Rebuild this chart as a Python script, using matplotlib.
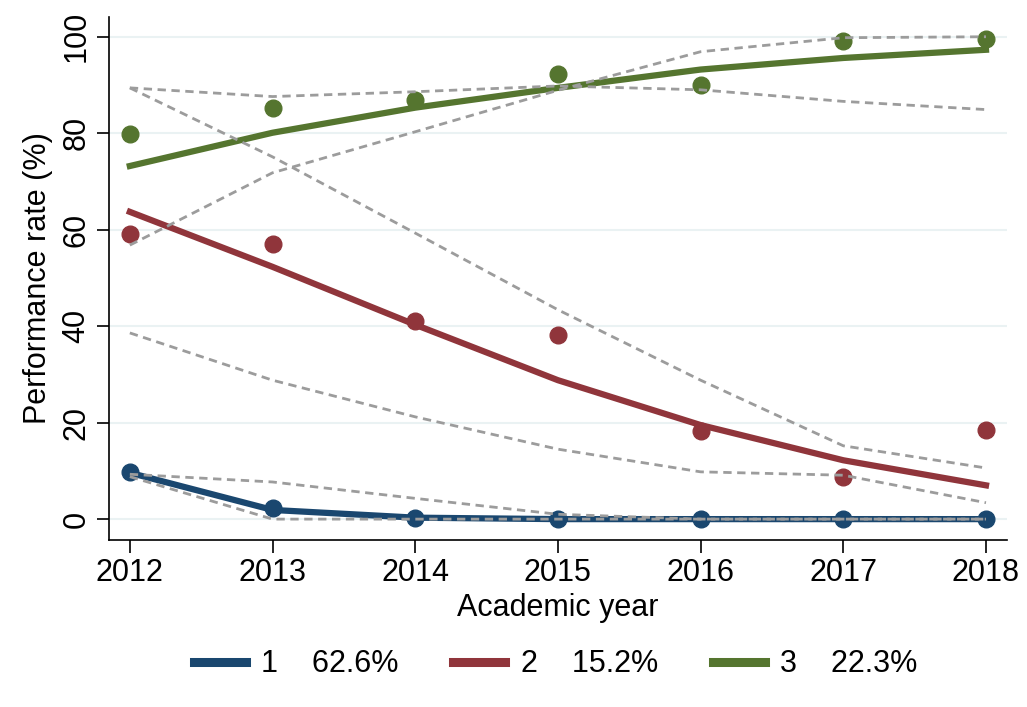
import numpy as np
import matplotlib.pyplot as plt

plt.rcParams['font.family'] = ['Liberation Sans', 'DejaVu Sans']

years = [2012, 2013, 2014, 2015, 2016, 2017, 2018]
labels = ["1    62.6%", "2    15.2%", "3    22.3%"]
colors = ["#1a476f", "#90353b", "#55752f"]

# observed rates per group
obs1 = [9.8, 2.3, 0.2, 0.0, 0.0, 0.0, 0.0]
obs2 = [59.1, 57.1, 41.1, 38.2, 18.3, 8.7, 18.5]
obs3 = [79.9, 85.3, 86.9, 92.3, 90.0, 99.2, 99.6]

# fitted trajectories
fit1 = [9.6, 1.9, 0.3, 0.0, 0.0, 0.0, 0.0]
fit2 = [63.7, 52.3, 40.3, 28.8, 19.5, 12.2, 7.0]
fit3 = [73.2, 80.1, 85.3, 89.4, 93.2, 95.6, 97.3]

# confidence bands (two dashed lines per group)
ci1_a = [9.3, 7.7, 4.3, 1.0, 0.0, 0.0, 0.0]
ci1_b = [8.8, 0.0, 0.0, 0.0, 0.0, 0.0, 0.0]
ci2_a = [89.4, 75.1, 59.3, 43.4, 28.8, 15.2, 10.6]
ci2_b = [38.6, 28.8, 21.2, 14.5, 9.8, 9.1, 3.4]
ci3_a = [89.4, 87.6, 88.6, 89.8, 89.0, 86.6, 84.9]
ci3_b = [56.8, 71.8, 80.3, 88.9, 96.9, 99.8, 100.0]

fig = plt.figure(figsize=(10.27, 7.07), dpi=100)
ax = fig.add_axes([0.106, 0.236, 0.8745, 0.740])

for y in range(0, 101, 20):
    ax.axhline(y, color="#eaf2f3", lw=1.5, zorder=0)

grey = "#9c9c9c"
for ci in [ci1_a, ci1_b, ci2_a, ci2_b, ci3_a, ci3_b]:
    ax.plot(years, ci, color=grey, lw=2.0, ls=(0, (3, 2)), zorder=4)

obs = [obs1, obs2, obs3]
fits = [fit1, fit2, fit3]
for o, f, c, lab in zip(obs, fits, colors, labels):
    ax.plot(years, o, 'o', color=c, ms=12, zorder=2)
    ax.plot(years, f, '-', color=c, lw=4.5, label=lab, zorder=3)

ax.set_xlim(2011.853, 2018.147)
ax.set_ylim(-4.36, 104.1)
ax.set_xticks(years)
ax.set_yticks(range(0, 101, 20))
ax.tick_params(labelsize=22, length=9, width=1.2)
for t in ax.get_yticklabels():
    t.set_rotation(90)
    t.set_va('center')
ax.spines['top'].set_visible(False)
ax.spines['right'].set_visible(False)
ax.spines['left'].set_linewidth(1.2)
ax.spines['bottom'].set_linewidth(1.2)

ax.set_xlabel("Academic year", fontsize=22, labelpad=4)
ax.set_ylabel("Performance rate (%)", fontsize=22, labelpad=6)

leg = fig.legend(loc='lower center', ncol=3, frameon=False, fontsize=22,
                 handlelength=1.7, columnspacing=1.8, handletextpad=0.5,
                 bbox_to_anchor=(0.541, 0.0))
for h in leg.get_lines():
    h.set_linewidth(6.5)

fig.savefig("out.png", dpi=100)
